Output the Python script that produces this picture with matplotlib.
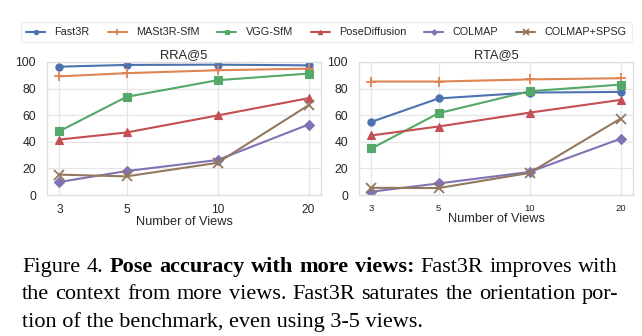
import matplotlib
matplotlib.use("Agg")
import matplotlib.pyplot as plt
import seaborn as sns

views = [3, 5, 10, 20]
methods = ["Fast3R", "MASt3R-SfM", "VGG-SfM", "PoseDiffusion", "COLMAP", "COLMAP+SPSG"]
markers = ["o", "+", "s", "^", "D", "x"]

rra = {
    "Fast3R": [96.5, 97.8, 98.0, 97.5],
    "MASt3R-SfM": [89.2, 91.6, 93.8, 95.0],
    "VGG-SfM": [48.0, 73.8, 86.3, 91.3],
    "PoseDiffusion": [41.7, 47.0, 59.8, 72.8],
    "COLMAP": [9.8, 18.0, 26.3, 53.0],
    "COLMAP+SPSG": [15.3, 14.0, 24.2, 67.5],
}
rta = {
    "Fast3R": [55.0, 72.6, 77.0, 77.5],
    "MASt3R-SfM": [85.3, 85.3, 86.9, 87.8],
    "VGG-SfM": [35.0, 61.5, 78.0, 83.0],
    "PoseDiffusion": [44.8, 51.5, 61.9, 71.5],
    "COLMAP": [2.5, 8.7, 17.3, 42.3],
    "COLMAP+SPSG": [5.4, 5.2, 16.6, 57.4],
}
titles = ["RRA@5", "RTA@5"]
xlabel = "Number of Views"
yticks = [0, 20, 40, 60, 80, 100]

caption_line1 = [("Figure", False), ("4.", False), ("Pose", True), ("accuracy", True), ("with", True),
                 ("more", True), ("views:", True), ("Fast3R", False), ("improves", False), ("with", False)]
caption_line2 = "the context from more views. Fast3R saturates the orientation por-"
caption_line3 = "tion of the benchmark, even using 3-5 views."

sns.set_theme(style="whitegrid", palette="deep")
plt.rcParams["font.family"] = ["Liberation Sans", "DejaVu Sans"]
colors = sns.color_palette("deep")

fig = plt.figure(figsize=(6.42, 3.36), dpi=100)
W, H = 642.0, 336.0
axL = fig.add_axes([47 / W, 1 - 195 / H, 274 / W, 133 / H])
axR = fig.add_axes([359 / W, 1 - 195 / H, 274 / W, 133 / H])

handles = []
for ax, data, title, xfs in [(axL, rra, titles[0], 8.6), (axR, rta, titles[1], 6.8)]:
    for i, m in enumerate(methods):
        mk = markers[i]
        ms = 5.2 if mk in ("o", "s", "^") else (4.6 if mk == "D" else 6.5)
        h, = ax.plot(views, data[m], color=colors[i], marker=mk, markersize=ms,
                     markeredgewidth=1.3 if mk in ("+", "x") else 0.8,
                     markeredgecolor=colors[i], lw=1.5, label=m)
        if ax is axL:
            handles.append(h)
    ax.set_xscale("log")
    ax.set_xticks(views)
    ax.set_xticklabels([str(v) for v in views], fontsize=xfs)
    ax.minorticks_off()
    ax.set_ylim(0, 100)
    ax.set_yticks(yticks)
    ax.tick_params(axis="y", labelsize=8.7, pad=2)
    ax.tick_params(axis="x", pad=0.8)
    ax.set_title(title, fontsize=9.3, pad=2.5, color="#262626")
    ax.set_xlabel(xlabel, fontsize=9.2, labelpad=0, color="#262626")
    for s in ax.spines.values():
        s.set_color("#dddddd")
        s.set_linewidth(0.9)
    ax.grid(color="#e6e6e6", lw=0.9)

leg = fig.legend(handles=handles, loc="upper left", ncol=6,
                 bbox_to_anchor=(21.5 / W, 1 - 22.5 / H, 610 / W, 0.0001), mode="expand",
                 fontsize=7.8, frameon=True, markerscale=0.6, handlelength=1.75,
                 columnspacing=1.0, borderpad=0.45, handletextpad=0.85, borderaxespad=0)
leg.get_frame().set_edgecolor("#e8e8e8")
leg.get_frame().set_linewidth(0.8)

# caption with justified lines
fig.canvas.draw()
renderer = fig.canvas.get_renderer()
cap_fs = 16
serif = ["Liberation Serif", "DejaVu Serif"]
x0, x1 = 22, 618
baselines = [271.7, 299.3, 326.5]

for words, yb in [(caption_line1, baselines[0]),
                  ([(w, False) for w in caption_line2.split()], baselines[1])]:
    texts = []
    for w, b in words:
        t = fig.text(0, 1 - yb / H, w, fontsize=cap_fs, family=serif,
                     fontweight="bold" if b else "normal", va="baseline", ha="left",
                     color="black")
        texts.append(t)
    widths = [t.get_window_extent(renderer).width for t in texts]
    gap = (x1 - x0 - sum(widths)) / (len(words) - 1)
    x = x0
    for t, w in zip(texts, widths):
        t.set_x(x / W)
        x += w + gap

fig.text(x0 / W, 1 - baselines[2] / H, caption_line3, fontsize=cap_fs, family=serif,
         va="baseline", ha="left", color="black")

fig.savefig("out.png", dpi=100)
